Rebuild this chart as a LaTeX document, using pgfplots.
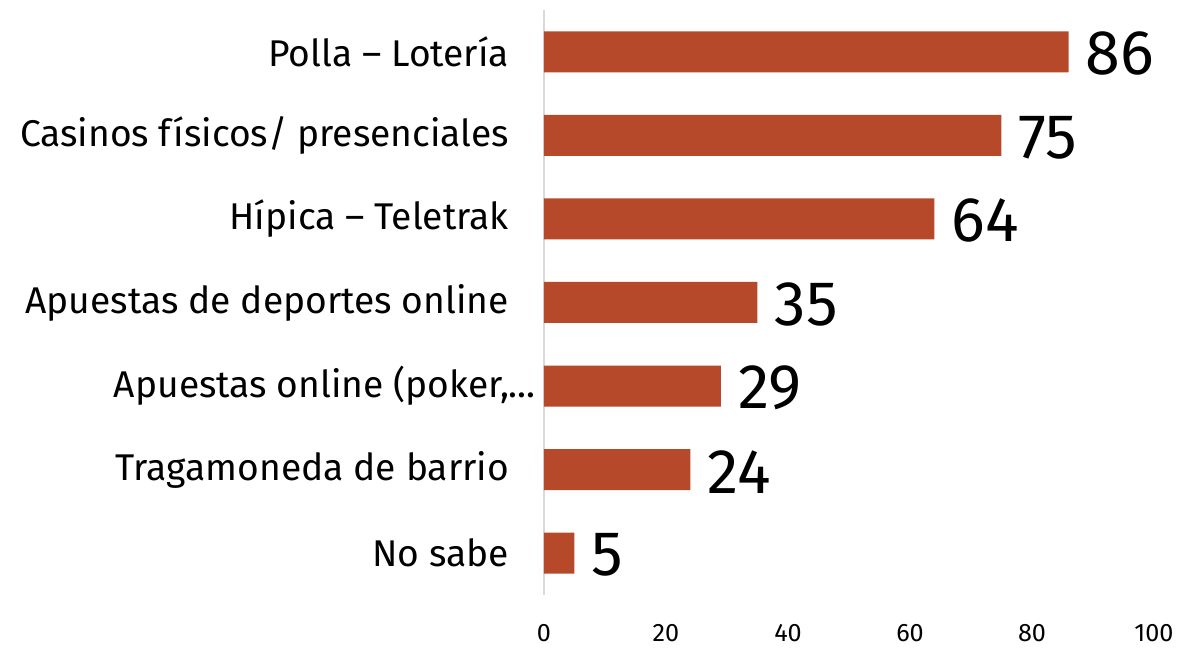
\documentclass[border=0pt]{standalone}
\usepackage{fontspec}
\setmainfont{Fira Sans}
\usepackage{pgfplots}
\pgfplotsset{compat=1.18}
\definecolor{barc}{HTML}{B5492A}
\definecolor{axc}{HTML}{D9D9D9}
\begin{document}
\begin{tikzpicture}
\useasboundingbox (0,0) rectangle (600.5pt,325.5pt);
\begin{axis}[
  at={(272pt,28pt)}, anchor=south west,
  scale only axis, width=305pt, height=292.5pt,
  xmin=0, xmax=100, ymin=-0.5, ymax=6.5,
  xbar, bar width=20.5pt, bar shift=0pt,
  axis x line=none,
  axis y line*=left,
  y axis line style={draw=axc, line width=0.8pt, -},
  xtick=\empty,
  ytick={0,1,2,3,4,5,6},
  yticklabels={No sabe, Tragamoneda de barrio, {Apuestas online (poker,\rlap{...}}, Apuestas de deportes online, Hípica – Teletrak, Casinos físicos/ presenciales, Polla – Lotería},
  major tick length=0pt,
  yticklabel style={font=\fontsize{18.6}{20}\selectfont, xshift=-14pt},
  /pgf/number format/assume math mode=true,
  nodes near coords,
  every node near coord/.append style={font=\fontsize{31.5}{34}\selectfont, text=black, inner sep=0pt, xshift=8.5pt, yshift=-1pt},
  clip=false,
]
\addplot[fill=barc, draw=none] coordinates {(5,0) (24,1) (29,2) (35,3) (64,4) (75,5) (86,6)};
\end{axis}
\begin{axis}[
  at={(272pt,28pt)}, anchor=south west,
  scale only axis, width=305pt, height=292.5pt,
  xmin=0, xmax=100, ymin=-0.5, ymax=6.5,
  axis x line=bottom,
  x axis line style={draw=none},
  hide y axis,
  xtick={0,20,40,60,80,100},
  /pgf/number format/assume math mode=true,
  xticklabel style={font=\fontsize{12.6}{14}\selectfont, yshift=-11pt},
  major tick length=0pt,
]
\addplot[draw=none] coordinates {(0,0)};
\end{axis}
\end{tikzpicture}
\end{document}
